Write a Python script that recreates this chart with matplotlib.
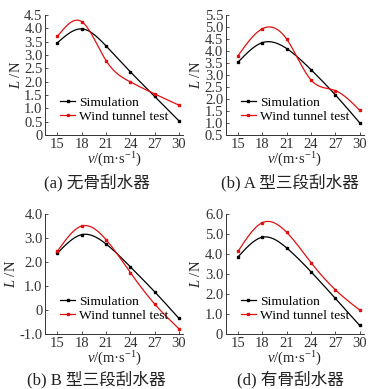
import numpy as np
import matplotlib
matplotlib.use("Agg")
import matplotlib.pyplot as plt

plt.rcParams['font.family'] = ['Liberation Serif', 'Noto Sans CJK SC']
plt.rcParams['mathtext.fontset'] = 'custom'
plt.rcParams['mathtext.it'] = 'Liberation Serif:italic'
plt.rcParams['mathtext.rm'] = 'Liberation Serif'

v = [15, 18, 21, 24, 27, 30]

sim_a = [3.46, 3.98, 3.34, 2.37, 1.45, 0.53]
wind_a = [3.70, 4.25, 2.79, 1.99, 1.54, 1.12]
sim_b = [3.54, 4.35, 4.10, 3.22, 2.17, 1.01]
wind_b = [3.81, 4.93, 4.49, 2.79, 2.35, 1.53]
sim_c = [2.37, 3.14, 2.75, 1.80, 0.76, -0.35]
wind_c = [2.45, 3.50, 2.93, 1.56, 0.25, -0.78]
sim_d = [3.86, 4.84, 4.30, 3.11, 1.78, 0.43]
wind_d = [4.14, 5.57, 5.08, 3.57, 2.21, 1.20]

captions = ['(a) 无骨刮水器', '(b) A 型三段刮水器', '(b) B 型三段刮水器', '(d) 有骨刮水器']
yticks = [np.arange(0, 4.51, 0.5), np.arange(0.5, 5.51, 0.5),
          np.arange(-1, 4.01, 1.0), np.arange(0, 6.01, 1.0)]
ytick_labels = [['0'] + ['%.1f' % t for t in yticks[0][1:]],
                ['%.1f' % t for t in yticks[1]],
                ['-1.0', '0', '1.0', '2.0', '3.0', '4.0'],
                ['0', '1.0', '2.0', '3.0', '4.0', '5.0', '6.0']]
sims = [sim_a, sim_b, sim_c, sim_d]
winds = [wind_a, wind_b, wind_c, wind_d]


def spline(x, y, n=200):
    # natural cubic spline for smooth curve through the points
    x = np.asarray(x, float)
    y = np.asarray(y, float)
    m = len(x)
    h = np.diff(x)
    A = np.zeros((m, m))
    r = np.zeros(m)
    A[0, 0] = 1
    A[-1, -1] = 1
    for i in range(1, m - 1):
        A[i, i - 1] = h[i - 1]
        A[i, i] = 2 * (h[i - 1] + h[i])
        A[i, i + 1] = h[i]
        r[i] = 6 * ((y[i + 1] - y[i]) / h[i] - (y[i] - y[i - 1]) / h[i - 1])
    M = np.linalg.solve(A, r)
    xs = np.linspace(x[0], x[-1], n)
    ys = np.zeros(n)
    for k, t in enumerate(xs):
        i = min(np.searchsorted(x, t, side='right') - 1, m - 2)
        a = x[i + 1] - t
        b = t - x[i]
        ys[k] = (M[i] * a**3 + M[i + 1] * b**3) / (6 * h[i]) \
            + (y[i] / h[i] - M[i] * h[i] / 6) * a + (y[i + 1] / h[i] - M[i + 1] * h[i] / 6) * b
    return xs, ys


fig = plt.figure(figsize=(3.86, 3.89), dpi=100)
W, H = 386.0, 389.0
lefts = [45.3, 226.0]
tops = [15.0, 214.0]
aw, ah = 137.7, 120.0
fs = 10.5

for k in range(4):
    col = k % 2
    row = k // 2
    ax = fig.add_axes([lefts[col] / W, 1 - (tops[row] + ah) / H, aw / W, ah / H])
    xs, ys = spline(v, sims[k])
    ax.plot(xs, ys, color='black', lw=0.9)
    ax.plot(v, sims[k], 's', color='black', ms=2)
    xs, ys = spline(v, winds[k])
    ax.plot(xs, ys, color='#e01010', lw=0.9)
    ax.plot(v, winds[k], 's', color='#e01010', ms=2)
    # legend proxies
    ax.plot([], [], '-s', color='black', lw=0.9, ms=2, label='Simulation')
    ax.plot([], [], '-s', color='#e01010', lw=0.9, ms=2, label='Wind tunnel test')
    ax.legend(loc='lower left', bbox_to_anchor=(0.04, 0.02), frameon=False,
              fontsize=9.7, handlelength=1.1, handletextpad=0.3, labelspacing=0.15,
              borderpad=0.2, markerscale=1)
    ax.set_xlim(13.5, 30.5)
    ax.set_ylim(yticks[k][0], yticks[k][-1])
    ax.set_xticks(v)
    ax.set_yticks(yticks[k])
    ax.set_yticklabels(ytick_labels[k])
    ax.tick_params(direction='in', length=2, width=0.6, labelsize=fs, pad=2, colors='#333333')
    for s in ['top', 'right']:
        ax.spines[s].set_visible(False)
    for s in ['left', 'bottom']:
        ax.spines[s].set_linewidth(0.7)
        ax.spines[s].set_color('#333333')
    ax.set_xlabel(r'$\mathit{v}$/(m·s$^{-1}$)', fontsize=fs, labelpad=0, color='#222222')
    ax.set_ylabel(r'$\mathit{L}$ /N', fontsize=fs, labelpad=1, color='#222222')
    cx = [96.5, 290.0][col]
    cy = [183.0, 380.0][row]
    fig.text(cx / W, 1 - cy / H, captions[k], ha='center', va='center', fontsize=12,
             family=['Liberation Serif', 'Noto Sans CJK SC'], color='#222222')

fig.savefig('out.png', dpi=100)
